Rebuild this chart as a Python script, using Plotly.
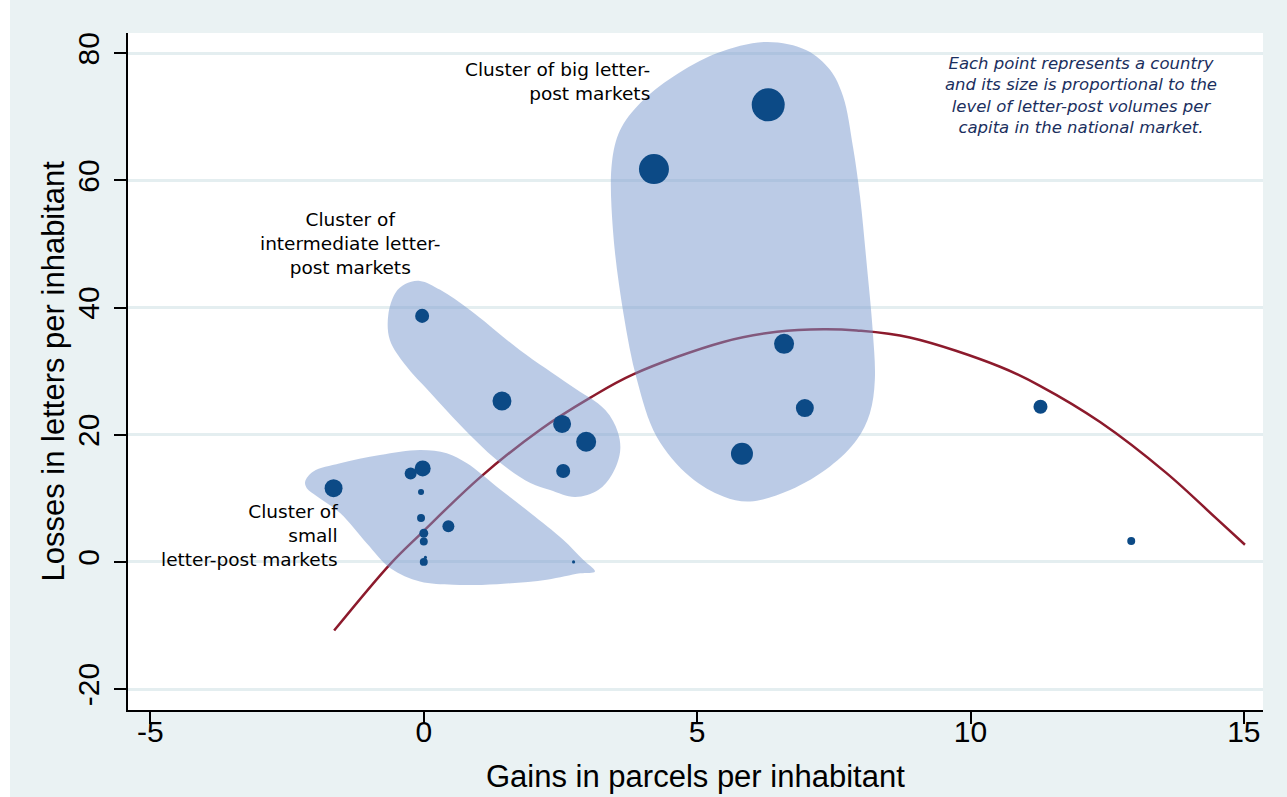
import plotly.graph_objects as go

# ---------------- data ----------------
gains_parcels = [6.30, 4.21, 6.59, 6.97, 5.82, 11.28, 12.94,
                 -0.03, 1.43, 2.53, 2.97, 2.55,
                 -1.65, -0.24, -0.02, -0.05, -0.05, 0.45, 0.00, 0.00, 0.00, 0.03, 2.74]
losses_letters = [71.9, 61.8, 34.3, 24.2, 17.0, 24.4, 3.3,
                  38.7, 25.3, 21.7, 18.9, 14.3,
                  11.6, 13.9, 14.7, 11.0, 6.9, 5.6, 4.5, 3.2, 0.0, 0.7, 0.0]
letter_volume = [327, 270, 120, 97, 145, 59, 19,
                 59, 108, 97, 120, 59,
                 97, 43, 77, 11, 19, 43, 24, 19, 19, 3, 3]

# quadratic fit line
fit_x = [-1.64, -0.61, -0.07, 1.03, 2.13, 3.04, 3.83, 5.48, 6.46, 7.31, 7.92, 8.89,
         10.54, 11.27, 12.37, 13.58, 14.50, 15.02]
fit_y = [-10.8, -0.3, 4.3, 13.3, 20.8, 25.8, 29.5, 34.6, 36.2, 36.6, 36.4, 35.3,
         30.7, 27.7, 22.0, 14.0, 6.8, 2.7]

# hand-drawn cluster outlines
big_x = [6.27, 7.00, 7.43, 7.67, 7.85, 7.98, 8.10, 8.21, 8.25, 8.16, 7.92, 7.43, 6.70, 5.97,
         5.48, 4.87, 4.26, 3.90, 3.65, 3.46, 3.44, 3.59, 3.96, 4.56, 5.36, 6.27]
big_y = [81.8, 80.5, 77.4, 73.2, 65.3, 57.4, 47.0, 36.5, 28.6, 23.4, 19.2, 15.0, 11.3, 9.5,
         10.3, 13.4, 19.7, 28.6, 39.2, 52.2, 62.7, 67.9, 72.2, 76.3, 80.0, 81.8]
mid_x = [-0.07, 0.30, 0.85, 1.76, 2.68, 3.32, 3.55, 3.59, 3.44, 3.19, 2.77, 2.31, 1.95, 1.34,
         0.67, 0.12, -0.34, -0.62, -0.65, -0.52, -0.34, -0.07]
mid_y = [44.2, 42.8, 39.6, 33.3, 27.8, 23.9, 20.4, 17.3, 13.7, 11.3, 10.2, 11.3, 12.4, 16.0,
         21.5, 26.6, 31.0, 34.9, 38.8, 42.3, 43.7, 44.2]
small_x = [-2.17, -2.02, -1.53, -0.80, -0.07, 0.42, 0.79, 1.34, 1.95, 2.55, 2.92, 3.13, 2.86,
           2.25, 1.34, 0.54, -0.07, -0.61, -1.04, -1.53, -1.95, -2.14, -2.17]
small_y = [12.6, 14.2, 15.5, 16.8, 17.6, 17.1, 15.5, 11.8, 7.7, 3.5, 0.3, -1.5, -1.8,
           -2.8, -3.5, -3.6, -3.1, -1.0, 2.9, 7.7, 10.3, 11.6, 12.6]

x_ticks = [-5, 0, 5, 10, 15]
x_tick_labels = ["-5", "0", "5", "10", "15"]
y_ticks = [-20, 0, 20, 40, 60, 80]
y_tick_labels = ["-20", "0", "20", "40", "60", "80"]

x_title = "Gains in parcels per inhabitant"
y_title = "Losses in letters per inhabitant"
label_big = ["Cluster of big letter-", "post markets"]
label_mid = ["Cluster of", "intermediate letter-", "post markets"]
label_small = ["Cluster of", "small", "letter-post markets"]
note_lines = ["Each point represents a country",
              "and its size is proportional to the",
              "level of letter-post volumes per",
              "capita in the national market."]

# ---------------- figure ----------------
BG = "#EAF2F3"
W, H = 1287, 797
L, R, T, B = 128, 24, 33, 87
pw, ph = W - L - R, H - T - B

fig = go.Figure()

fig.add_trace(go.Scatter(x=fit_x, y=fit_y, mode="lines", line_shape="spline",
                         line=dict(color="#8C1A2C", width=2.5), hoverinfo="skip"))

for cx, cy in [(big_x, big_y), (mid_x, mid_y), (small_x, small_y)]:
    fig.add_trace(go.Scatter(x=cx, y=cy, mode="lines", line_shape="spline",
                             fill="toself", fillcolor="rgba(120,152,206,0.5)",
                             line=dict(width=0, color="rgba(0,0,0,0)"), hoverinfo="skip"))

fig.add_trace(go.Scatter(x=gains_parcels, y=losses_letters, mode="markers",
                         marker=dict(size=letter_volume, sizemode="area", sizeref=0.6,
                                     color="#0C4A86", opacity=1, line=dict(width=0))))

label_font = dict(family="DejaVu Sans", size=18.5, color="black")
ann = [
    dict(x=4.18, y=75.5, text="<br>".join(label_big), xanchor="right", yanchor="middle",
         align="right", showarrow=False, font=label_font),
    dict(x=-1.35, y=50.1, text="<br>".join(label_mid), xanchor="center", yanchor="middle",
         align="center", showarrow=False, font=label_font),
    dict(x=-1.53, y=4.1, text="<br>".join(label_small), xanchor="right", yanchor="middle",
         align="right", showarrow=False, font=label_font),
    dict(x=12.02, y=73.4, text="<br>".join("<i>" + t + "</i>" for t in note_lines),
         xanchor="center", yanchor="middle", align="center", showarrow=False,
         font=dict(family="DejaVu Sans", size=16.5, color="#1B2F5E")),
]

title_font = dict(family="Liberation Sans, Arial", size=31, color="black")
ann.append(dict(xref="paper", yref="paper", x=0.5, y=(710 - 776) / ph, text=x_title,
                xanchor="center", yanchor="middle", showarrow=False, font=title_font))
ann.append(dict(xref="paper", yref="paper", x=(53 - L) / pw, y=0.5, text=y_title,
                textangle=-90, xanchor="center", yanchor="middle", showarrow=False,
                font=title_font))

shapes = [
    dict(type="rect", xref="paper", yref="paper", layer="below",
         x0=-L / pw, x1=(10 - L) / pw, y0=-B / ph, y1=(H - T) / ph + 0.01,
         fillcolor="white", line=dict(width=0)),
    dict(type="rect", xref="paper", yref="paper", layer="below",
         x0=-L / pw, x1=(W - L) / pw, y0=(H - T - 9) / ph, y1=(H - T) / ph + 0.01,
         fillcolor="white", line=dict(width=0)),
]

axis_font = dict(family="Liberation Sans, Arial", size=30, color="black")

fig.update_layout(
    width=W, height=H,
    margin=dict(l=L, r=R, t=T, b=B, autoexpand=False),
    paper_bgcolor=BG, plot_bgcolor="white",
    showlegend=False,
    annotations=ann, shapes=shapes,
    xaxis=dict(range=[-5.41, 15.35], tickvals=x_ticks, ticktext=x_tick_labels,
               showgrid=False, zeroline=False, automargin=False,
               showline=True, linecolor="black", linewidth=2,
               ticks="outside", ticklen=12, tickwidth=2, tickcolor="black",
               ticklabelstandoff=-18, tickfont=axis_font),
    yaxis=dict(range=[-23.3, 83.2], tickvals=y_ticks, ticktext=y_tick_labels, tickangle=-90,
               showgrid=True, gridcolor="#E4EEF0", gridwidth=3, zeroline=False,
               automargin=False,
               showline=True, linecolor="black", linewidth=2,
               ticks="outside", ticklen=12, tickwidth=2, tickcolor="black",
               ticklabelstandoff=3, tickfont=axis_font),
)

fig.write_html("out.html", config={"displayModeBar": False},
               post_script="document.body.style.margin='0px';")
